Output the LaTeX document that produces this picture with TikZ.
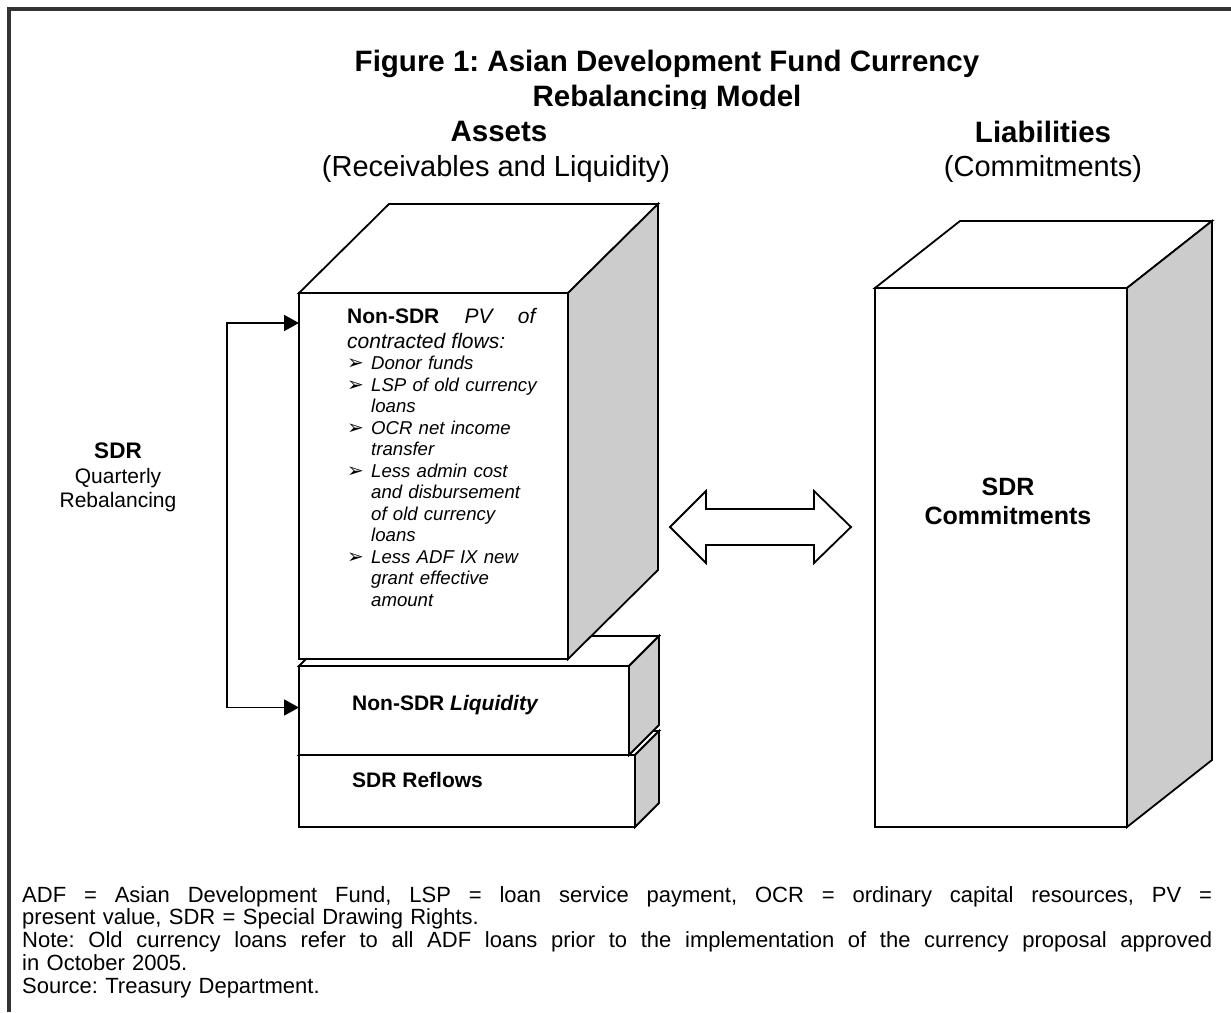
\documentclass[tikz,border=0pt]{standalone}
\usepackage{fontspec}
\setmainfont{Liberation Sans}
\newfontfamily\dingfont{DejaVu Sans}
\usepackage{xcolor}
\usepackage{tikz}
\usetikzlibrary{arrows.meta, positioning}
\frenchspacing
\definecolor{framegray}{HTML}{333333}
\definecolor{sidegray}{HTML}{CCCCCC}
\tikzstyle{face} = [rectangle, anchor=north west, draw=black, fill=white, line width=1.8pt, inner sep=0pt, outer sep=0pt]
\tikzstyle{lid} = [draw=black, fill=white, line width=1.8pt]
\tikzstyle{flank} = [draw=black, fill=sidegray, line width=1.8pt]
\tikzstyle{rebal} = [line width=1.8pt, <->, >={Triangle[length=15pt,width=16pt]}]
\tikzstyle{heading} = [font=\bfseries\fontsize{29.5}{34}\selectfont]
\tikzstyle{subheading} = [font=\fontsize{29}{34}\selectfont]
\tikzstyle{boxtext} = [anchor=west, inner sep=0pt, font=\bfseries\fontsize{21}{25}\selectfont]
% bullet, hanging indent and a line spread to a given width
\newcommand{\pvbullet}{\makebox[24pt][l]{\dingfont\fontsize{20}{20}\selectfont ➢}}
\newcommand{\pvcont}{\hspace*{24pt}}
\newcommand{\spreadline}[2]{\leavevmode\hbox to #1{\spaceskip=0.278em plus 1fil\relax #2}}

\begin{document}
\begin{tikzpicture}[x=1pt, y=-1pt]
   \useasboundingbox (0,0) rectangle (1231,1012);
   \draw[framegray, line width=4pt] (9,1012) -- (9,9) -- (1231,9);
   % headings
   \node (title) [heading] at (667,63.5) {Figure 1: Asian Development Fund Currency};
   \begin{scope}
      \clip (0,0) rectangle (1231,108);
      \node (title2) [heading, below of=title, node distance=35pt] {Rebalancing Model};
   \end{scope}
   \node (assets) [heading] at (499,131.5) {Assets};
   \node (recv) [subheading, below of=assets, node distance=37pt, xshift=-3pt] {(Receivables and Liquidity)};
   \node (liab) [heading] at (1043,131.5) {Liabilities};
   \node (commit) [subheading, below of=liab, node distance=37pt] {(Commitments)};
   % asset stack, drawn from the bottom block up
   \node (refl) [face, minimum width=336pt, minimum height=72pt] at (299,755) {};
   \draw[lid] (refl.north west) -- ++(24,-24) -- ++(336,0) -- (refl.north east) -- cycle;
   \draw[flank] (refl.north east) -- ++(24,-24) -- ++(0,72) -- (refl.south east) -- cycle;
   \node (liq) [face, minimum width=330pt, minimum height=89pt] at (299,666) {};
   \draw[lid] (liq.north west) -- ++(30,-30) -- ++(330,0) -- (liq.north east) -- cycle;
   \draw[flank] (liq.north east) -- ++(30,-30) -- ++(0,89) -- (liq.south east) -- cycle;
   \node (pv) [face, minimum width=269pt, minimum height=366pt] at (299,293) {};
   \draw[lid] (pv.north west) -- ++(90,-89) -- ++(269,0) -- (pv.north east) -- cycle;
   \draw[flank] (pv.north east) -- ++(90,-89) -- ++(0,366) -- (pv.south east) -- cycle;
   \node (pvtext) [below right=15pt and 48pt of pv.north west, inner sep=0pt, text width=215pt, align=left, font=\fontsize{18.6}{21.5}\selectfont] {%
      {\fontsize{21}{21.5}\selectfont\spreadline{190pt}{\textbf{Non-SDR} \textit{PV of}}}\\[3.5pt]
      {\fontsize{21}{21.5}\selectfont\textit{contracted flows:}}\\
      \pvbullet\textit{Donor funds}\\
      \pvbullet\textit{LSP of old currency}\\
      \pvcont\textit{loans}\\
      \pvbullet\textit{OCR net income}\\
      \pvcont\textit{transfer}\\
      \pvbullet\textit{Less admin cost}\\
      \pvcont\textit{and disbursement}\\
      \pvcont\textit{of old currency}\\
      \pvcont\textit{loans}\\
      \pvbullet\textit{Less ADF IX new}\\
      \pvcont\textit{grant effective}\\
      \pvcont\textit{amount}};
   \node (liqtext) [boxtext] at (352,705) {Non-SDR \textit{Liquidity}};
   \node (refltext) [boxtext] at (352,780) {SDR Reflows};
   % liabilities block
   \node (sdrc) [face, minimum width=252pt, minimum height=539pt] at (875,288) {};
   \draw[lid] (sdrc.north west) -- ++(85,-67) -- ++(252,0) -- (sdrc.north east) -- cycle;
   \draw[flank] (sdrc.north east) -- ++(85,-67) -- ++(0,539) -- (sdrc.south east) -- cycle;
   \node (sdrtext) [align=center, font=\bfseries\fontsize{25}{29}\selectfont] at (1008,501) {SDR\\Commitments};
   % two-way block arrow between the sides
   \draw[lid] (670,527) -- (706,491) -- (706,509) -- (814,509) -- (814,491) -- (851,527)
      -- (814,563) -- (814,545) -- (706,545) -- (706,563) -- cycle;
   % quarterly rebalancing loop
   \node (sdrlabel) [anchor=north, inner sep=0pt, align=center, font=\fontsize{21}{24.5}\selectfont] at (118,443) {{\bfseries\fontsize{22.5}{24.5}\selectfont SDR}\\Quarterly\\Rebalancing};
   \draw[rebal] ([yshift=-30pt]pv.north west) -- ++(-72,0) |- ([yshift=3pt]liq.west);
   % notes
   \node (notes) [anchor=north west, inner sep=0pt, text width=1200pt, align=left, font=\fontsize{22}{22.8}\selectfont] at (22,886) {%
      \spreadline{1190pt}{ADF = Asian Development Fund, LSP = loan service payment, OCR = ordinary capital resources, PV =}\\
      present value, SDR = Special Drawing Rights.\\
      \spreadline{1190pt}{Note: Old currency loans refer to all ADF loans prior to the implementation of the currency proposal approved}\\
      in October 2005.\\
      Source: Treasury Department.};
\end{tikzpicture}
\end{document}
